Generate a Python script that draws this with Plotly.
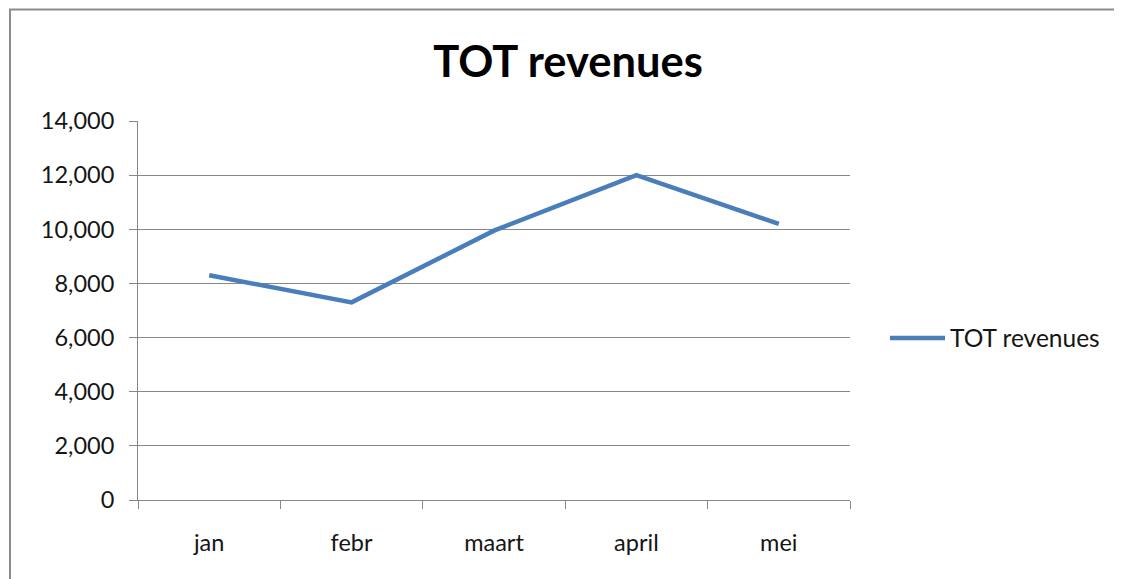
import plotly.graph_objects as go

months = ["jan", "febr", "maart", "april", "mei"]
revenues = [8300, 7300, 9950, 12000, 10200]
series_name = "TOT revenues"
y_ticks = [0, 2000, 4000, 6000, 8000, 10000, 12000, 14000]

# the page body has an 8px default margin; figure sized to fit
OFF = 8
W, H = 1122 - OFF, 579 - OFF
L, R, T, B = 138 - OFF, 272, 121 - OFF, 79
FONT = "Lato, 'Open Sans', sans-serif"
GRAY = "#878787"
TXT = "#151515"

fig = go.Figure()
fig.add_trace(go.Scatter(
    x=months, y=revenues, mode="lines", name=series_name,
    line=dict(color="#4a7ebb", width=4.5),
))

pw, ph = W - L - R, H - T - B
def px2paper_x(p): return (p - OFF - L) / pw
def px2paper_y(p): return (H - B - (p - OFF)) / ph

fig.add_shape(type="rect", xref="paper", yref="paper",
              x0=px2paper_x(10), x1=px2paper_x(1160),
              y0=px2paper_y(640), y1=px2paper_y(9.5),
              line=dict(color="#8c8c8c", width=2), fillcolor="rgba(0,0,0,0)", layer="below")

fig.update_layout(
    width=W, height=H,
    margin=dict(l=L, r=R, t=T, b=B, pad=0),
    paper_bgcolor="white", plot_bgcolor="white",
    font=dict(family=FONT, size=23.5, color=TXT),
    title=dict(text="<b>TOT revenues</b>", x=px2paper_x(568), xref="paper", xanchor="center",
               y=1 - (62 - OFF) / H, yanchor="middle", font=dict(size=43.5, family=FONT, color="#000000")),
    showlegend=True,
    legend=dict(x=px2paper_x(885), y=px2paper_y(338), xanchor="left", yanchor="middle",
                font=dict(size=24.5, family=FONT, color=TXT), itemwidth=55,
                bgcolor="rgba(0,0,0,0)"),
    xaxis=dict(type="category", range=[-0.5, 4.5], tickson="boundaries", ticks="outside",
               ticklen=8, tickcolor=GRAY, showline=True, linecolor=GRAY, linewidth=1,
               showgrid=False, ticklabelstandoff=22, zeroline=False, fixedrange=True),
    yaxis=dict(range=[0, 14000], tickvals=y_ticks, tickformat=",d", ticks="outside",
               ticklen=8, tickcolor=GRAY, showline=True, linecolor=GRAY, linewidth=1,
               showgrid=True, gridcolor=GRAY, gridwidth=1, zeroline=False,
               ticklabelstandoff=10, fixedrange=True),
)

fig.write_html("out.html")
